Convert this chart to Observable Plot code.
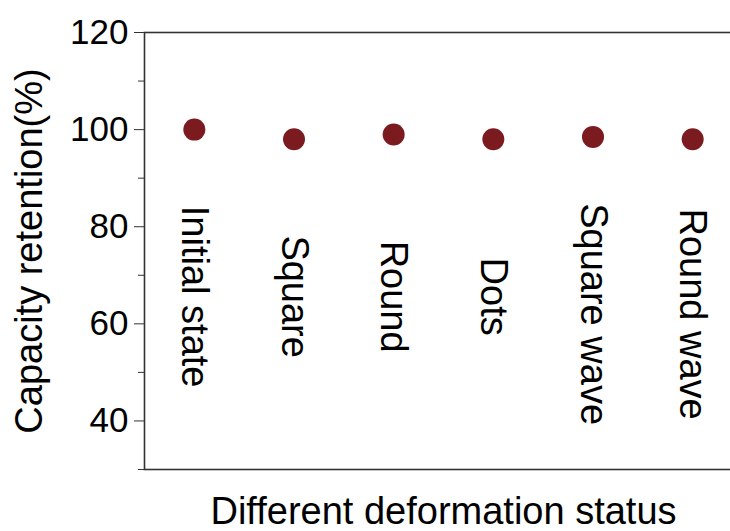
<!DOCTYPE html>
<html>
<head>
<meta charset="utf-8">
<script src="https://cdn.jsdelivr.net/npm/d3@7"></script>
<script src="https://cdn.jsdelivr.net/npm/@observablehq/plot@0.6"></script>
<style>
  html, body { margin: 0; padding: 0; background: #fff; }
  #chart { width: 730px; height: 531px; overflow: hidden; }
</style>
</head>
<body>
<div id="chart"></div>
<script>
// Deformation states and the capacity retained after each one
const states = ["Initial state", "Square", "Round", "Dots", "Square wave", "Round wave"];
const retention = [100, 98, 99, 98, 98.5, 98];

// Y-axis ticks
const majorTicks = [40, 60, 80, 100, 120];
const minorTicks = [30, 50, 70, 90, 110];

// Axis titles
const xTitle = "Different deformation status";
const yTitle = "Capacity retention(%)";

const data = states.map((state, i) => ({state, value: retention[i]}));

// Vertical placement (in % units) of the centre of each rotated state label
const labelCentre = d => (d.state.endsWith("wave") ? 62 : 65.6);

const axisColor = "#333";
const dotColor = "#7b1a1f";

const chart = Plot.plot({
  width: 730,
  height: 531,
  marginLeft: 144,
  marginRight: -12,
  marginTop: 32,
  marginBottom: 62,
  style: {fontFamily: "'Liberation Sans', Arial, sans-serif", color: "#000", background: "#fff"},
  x: {type: "point", domain: states, padding: 0.5, round: false, axis: null},
  y: {domain: [30, 120]},
  marks: [
    Plot.frame({stroke: axisColor, strokeWidth: 1.6}),
    Plot.axisY({ticks: majorTicks, tickSize: 10, tickPadding: 6, fontSize: 35, stroke: axisColor, label: null}),
    Plot.axisY({ticks: minorTicks, tickSize: 6, text: null, stroke: axisColor, label: null}),
    Plot.dot(data, {x: "state", y: "value", r: 11, fill: dotColor, stroke: null}),
    Plot.text(data, {x: "state", y: labelCentre, text: "state", rotate: 90,
      textAnchor: "middle", fontSize: 38, fill: "#000"}),
    Plot.text([yTitle], {frameAnchor: "left", text: d => d, rotate: -90, dx: -115,
      textAnchor: "middle", lineAnchor: "middle", fontSize: 38, fill: "#000"}),
    Plot.text([xTitle], {frameAnchor: "bottom", text: d => d, dy: 42,
      textAnchor: "middle", lineAnchor: "middle", fontSize: 38, fill: "#000"})
  ]
});

document.getElementById("chart").appendChild(chart);
</script>
</body>
</html>
